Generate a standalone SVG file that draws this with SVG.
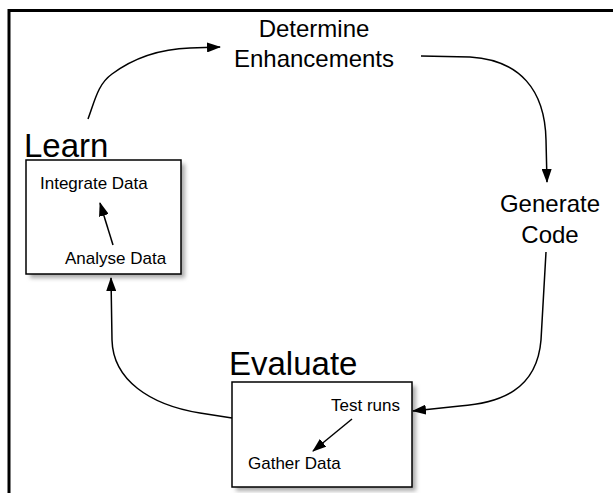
<svg xmlns="http://www.w3.org/2000/svg" width="613" height="493" viewBox="0 0 613 493">
<style>
text{font-family:"Liberation Sans",Arial,sans-serif;fill:#000}
.big{font-size:24px}
.title{font-size:33px}
.small{font-size:17px}
.box{fill:#fff;stroke:#000;stroke-width:1.5}
.conn{fill:none;stroke:#000;stroke-width:1.5}
</style>
<defs>
<marker id="ah" viewBox="0 0 14 10" refX="13" refY="5" markerWidth="14" markerHeight="10" markerUnits="userSpaceOnUse" orient="auto">
<path d="M0,0 L14,5 L0,10 Z" fill="#000"/>
</marker>
<filter id="sh" x="-10%" y="-10%" width="130%" height="130%">
<feGaussianBlur stdDeviation="2"/>
</filter>
</defs>
<rect width="613" height="493" fill="#fff"/>
<path d="M9,493 V10.5 H613" fill="none" stroke="#000" stroke-width="3"/>

<g id="determine">
<text class="big" x="314" y="37" text-anchor="middle">Determine</text>
<text class="big" x="314" y="67" text-anchor="middle">Enhancements</text>
</g>
<g id="generate">
<text class="big" x="550" y="212" text-anchor="middle">Generate</text>
<text class="big" x="550" y="243" text-anchor="middle">Code</text>
</g>
<g id="learn">
<text class="title" x="24" y="157">Learn</text>
<rect x="30" y="164" width="155" height="114" fill="#aaa" filter="url(#sh)"/>
<rect class="box" x="26" y="160" width="155" height="114"/>
<text class="small" x="40" y="189">Integrate Data</text>
<text class="small" x="65" y="264">Analyse Data</text>
<path class="conn" d="M113,245 L100,203" marker-end="url(#ah)"/>
</g>
<g id="evaluate">
<text class="title" x="229" y="375">Evaluate</text>
<rect x="236" y="386" width="180" height="105" fill="#aaa" filter="url(#sh)"/>
<rect class="box" x="232" y="382" width="180" height="105"/>
<text class="small" x="331" y="411">Test runs</text>
<text class="small" x="248" y="469">Gather Data</text>
<path class="conn" d="M352,419 L313,451" marker-end="url(#ah)"/>
</g>
<g id="connectors">
<path class="conn" d="M88,119 C95,100 98,84 112,74 C135,57 160,49 190,48 L220,47" marker-end="url(#ah)"/>
<path class="conn" d="M421,56 L470,57 C520,60 545,90 546,140 L547,182" marker-end="url(#ah)"/>
<path class="conn" d="M546,252 L541,340 C537,390 500,403 460,406 L413,411" marker-end="url(#ah)"/>
<path class="conn" d="M232,418 L200,413 C150,405 113,380 112,340 L111,278" marker-end="url(#ah)"/>
</g>
</svg>
